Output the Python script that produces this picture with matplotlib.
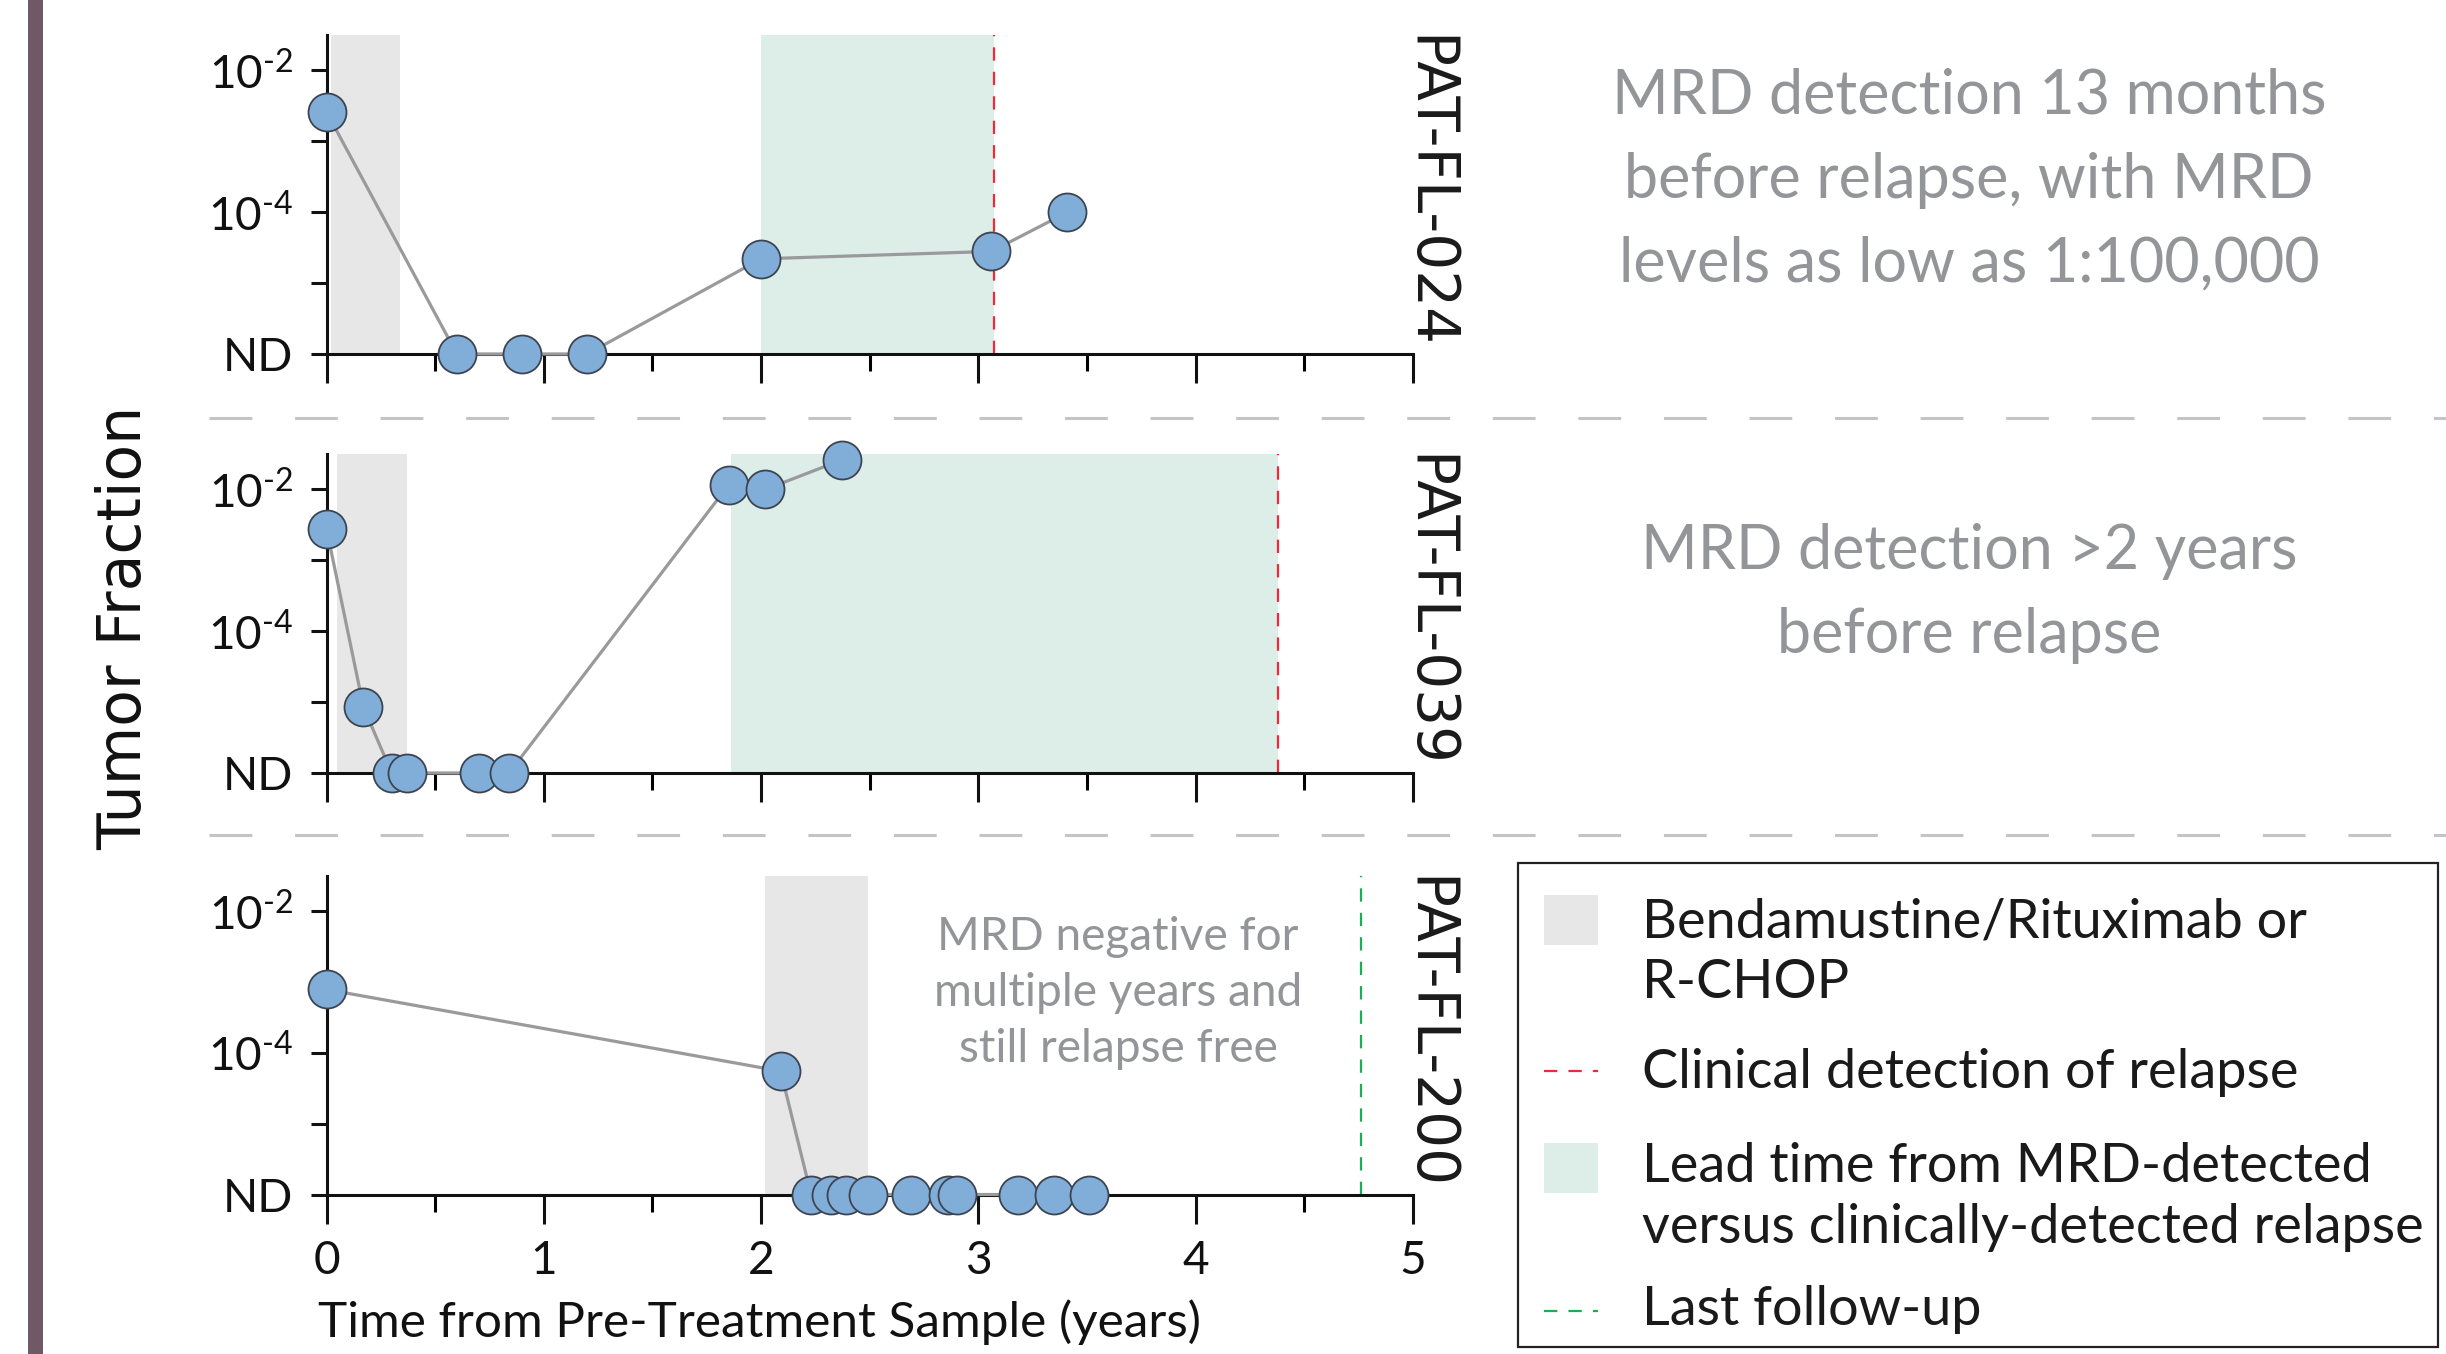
import matplotlib
matplotlib.use('Agg')
import matplotlib.pyplot as plt
from matplotlib.patches import Rectangle
from matplotlib.lines import Line2D
from matplotlib.ticker import FixedLocator, NullFormatter, MultipleLocator, FixedFormatter

# ---------------- data ----------------
ND = 1e-6  # "not detected" plotted at the bottom of the log axis

patients = ['PAT-FL-024', 'PAT-FL-039', 'PAT-FL-200']

t024 = [0.0, 0.60, 0.90, 1.20, 2.00, 3.06, 3.41]
f024 = [2.6e-3, ND, ND, ND, 2.2e-5, 2.8e-5, 1.0e-4]

t039 = [0.0, 0.17, 0.30, 0.37, 0.70, 0.84, 1.85, 2.02, 2.37]
f039 = [2.8e-3, 8.5e-6, ND, ND, ND, ND, 1.15e-2, 1.0e-2, 2.6e-2]

t200 = [0.0, 2.09, 2.23, 2.32, 2.39, 2.49, 2.69, 2.86, 2.90, 3.18, 3.35, 3.51]
f200 = [7.8e-4, 5.5e-5, ND, ND, ND, ND, ND, ND, ND, ND, ND, ND]

times = [t024, t039, t200]
fracs = [f024, f039, f200]

treatment = [(0.02, 0.34), (0.05, 0.37), (2.02, 2.49)]
lead_time = [(2.00, 3.07), (1.86, 4.38), None]
relapse = [3.07, 4.38, None]
last_followup = [None, None, 4.76]

ytick_vals = [ND, 1e-4, 1e-2]
ytick_labels = ['ND', r'$\mathregular{10^{\text{-}4}}$', r'$\mathregular{10^{\text{-}2}}$']
yminor_vals = [1e-5, 1e-3]
xticks = [0, 1, 2, 3, 4, 5]

notes = ['MRD detection 13 months\nbefore relapse, with MRD\nlevels as low as 1:100,000',
         'MRD detection >2 years\nbefore relapse',
         'MRD negative for\nmultiple years and\nstill relapse free']

legend_labels = ['Bendamustine/Rituximab or\nR-CHOP',
                 'Clinical detection of relapse',
                 'Lead time from MRD-detected\nversus clinically-detected relapse',
                 'Last follow-up']

# ---------------- style ----------------
W, H = 2446, 1354
DPI = 100
def pt(px):
    return px * 72.0 / DPI

MAIN_FONT = 'Lato'
plt.rcParams['font.family'] = [MAIN_FONT, 'DejaVu Sans']
plt.rcParams['mathtext.fontset'] = 'custom'
plt.rcParams['mathtext.rm'] = MAIN_FONT

GREY_SHADE = '#e7e7e7'
GREEN_SHADE = '#ddede8'
RED = '#ee2a3a'
GREEN = '#1aae55'
MARKER_FACE = '#80aed9'
MARKER_EDGE = '#3d4450'
LINE_GREY = '#9a9a9c'
NOTE_GREY = '#939598'
PURPLE = '#705867'

fig = plt.figure(figsize=(W / DPI, H / DPI), dpi=DPI)
fig.patch.set_facecolor('white')

# overlay axes in pixel coordinates for page decorations
ov = fig.add_axes([0, 0, 1, 1], zorder=0)
ov.set_xlim(0, W)
ov.set_ylim(H, 0)
ov.axis('off')

# panel geometry (pixels)
x_left, x_right = 326.5, 1413
panel_bottoms = [354, 773, 1194.5]
panel_h = 319

axes = []
for i in range(3):
    yb = panel_bottoms[i]
    rect = [x_left / W, 1 - yb / H, (x_right - x_left) / W, panel_h / H]
    ax = fig.add_axes(rect, zorder=2)
    ax.set_facecolor('none')
    axes.append(ax)

for i, ax in enumerate(axes):
    ax.set_yscale('log')
    ax.set_xlim(0, 5)
    ax.set_ylim(ND, 10 ** -1.5)
    for s in ['top', 'right']:
        ax.spines[s].set_visible(False)
    for s in ['left', 'bottom']:
        ax.spines[s].set_linewidth(2.2)
        ax.spines[s].set_color('#111111')

    # shading
    a, b = treatment[i]
    ax.axvspan(a, b, color=GREY_SHADE, lw=0, zorder=0)
    if lead_time[i] is not None:
        a, b = lead_time[i]
        ax.axvspan(a, b, color=GREEN_SHADE, lw=0, zorder=0)
    if relapse[i] is not None:
        ax.axvline(relapse[i], color=RED, lw=1.6, dashes=(6, 5), zorder=1)
    if last_followup[i] is not None:
        ax.axvline(last_followup[i], color=GREEN, lw=1.6, dashes=(6, 5), zorder=1)

    ax.plot(times[i], fracs[i], '-o', color=LINE_GREY, lw=2.3,
            ms=pt(38), mfc=MARKER_FACE, mec=MARKER_EDGE, mew=1.3,
            zorder=4, clip_on=False)

    ax.yaxis.set_major_locator(FixedLocator(ytick_vals))
    ax.yaxis.set_major_formatter(FixedFormatter(ytick_labels))
    ax.yaxis.set_minor_locator(FixedLocator(yminor_vals))
    ax.yaxis.set_minor_formatter(NullFormatter())
    ax.xaxis.set_major_locator(FixedLocator(xticks))
    ax.xaxis.set_minor_locator(MultipleLocator(0.5))

    ax.tick_params(axis='y', which='both', direction='out', length=pt(16),
                   width=2.2, pad=pt(17), labelsize=pt(46), colors='#111111')
    ax.tick_params(axis='x', which='major', direction='out', length=pt(29),
                   width=2.2, pad=pt(16), labelsize=pt(46), colors='#111111')
    ax.tick_params(axis='x', which='minor', direction='out', length=pt(17),
                   width=2.2)
    if i < 2:
        ax.tick_params(axis='x', which='major', labelbottom=False)

    # patient label
    ax.text((1428 - x_left) / (x_right - x_left), 1.0, patients[i],
            transform=ax.transAxes, rotation=-90, ha='center', va='top',
            fontsize=pt(58), family='DejaVu Sans', color='#1a1a1a')

# x label
ov.text(759, 1322, 'Time from Pre-Treatment Sample (years)', ha='center',
        va='center', fontsize=pt(49.5), color='#111111')

# y label
ov.text(125, 628, 'Tumor Fraction', rotation=90, ha='center', va='center',
        fontsize=pt(60), family='DejaVu Sans', color='#111111')

# purple bar
ov.add_patch(Rectangle((28, 0), 15, H, color=PURPLE, lw=0))

# separators
for y in [418, 835]:
    ov.add_line(Line2D([209, W], [y, y], color='#c4c4c6', lw=2.2,
                       dashes=(14, 14)))

# annotations (line baselines in pixels)
note_specs = [
    (1969, [114, 198, 282], pt(61)),
    (1969, [569, 653], pt(61)),
    (1118, [950, 1006, 1062], pt(46)),
]
for txt, (cx, bases, fs) in zip(notes, note_specs):
    for line, yb in zip(txt.split('\n'), bases):
        ov.text(cx, yb, line, ha='center', va='baseline', fontsize=fs,
                color=NOTE_GREY)

# legend box
ov.add_patch(Rectangle((1518, 863), 920, 484, fill=False, ec='#222222', lw=1.6))
ov.add_patch(Rectangle((1544, 895), 54, 50, color=GREY_SHADE, lw=0))
ov.add_line(Line2D([1544, 1598], [1071, 1071], color=RED, lw=1.6, dashes=(6, 5)))
ov.add_patch(Rectangle((1544, 1143), 54, 50, color=GREEN_SHADE, lw=0))
ov.add_line(Line2D([1544, 1598], [1311, 1311], color=GREEN, lw=1.6, dashes=(6, 5)))

legend_bases = [[937, 998], [1088], [1182, 1243], [1325]]
for lab, bases in zip(legend_labels, legend_bases):
    for line, yb in zip(lab.split('\n'), bases):
        ov.text(1642, yb, line, ha='left', va='baseline', fontsize=pt(54),
                color='#1a1a1a')

fig.savefig('out.png', dpi=DPI)
